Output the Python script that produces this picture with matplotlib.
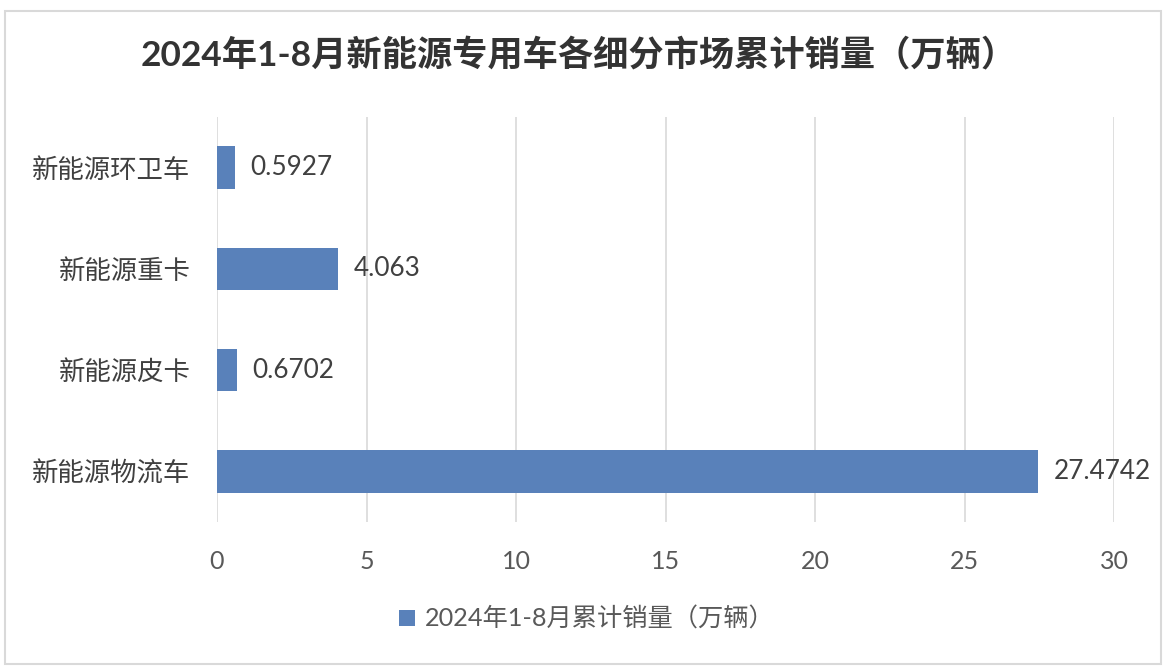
import matplotlib
matplotlib.use("Agg")
from matplotlib import pyplot as plt
from matplotlib.patches import Rectangle

plt.rcParams['font.family'] = ['Lato', 'Noto Sans CJK SC', 'DejaVu Sans']

categories = ['新能源物流车', '新能源皮卡', '新能源重卡', '新能源环卫车']
values = [27.4742, 0.6702, 4.063, 0.5927]
value_labels = ['27.4742', '0.6702', '4.063', '0.5927']
xticks = [0, 5, 10, 15, 20, 25, 30]
title = '2024年1-8月新能源专用车各细分市场累计销量（万辆）'
series_name = '2024年1-8月累计销量（万辆）'

bar_color = '#5981BA'

fig = plt.figure(figsize=(11.68, 6.72), dpi=100)
ax = fig.add_axes([217/1168, 1 - 522/672, (1114 - 217)/1168, (522 - 117)/672])

y = range(len(categories))
bars = ax.barh(y, values, height=0.42, color=bar_color, label=series_name, zorder=3)
for b, lab in zip(bars, value_labels):
    ax.annotate(lab, (b.get_width(), b.get_y() + b.get_height()/2),
                xytext=(11, 0), textcoords='offset points',
                va='center', ha='left', fontsize=18.8, color='#404040')

ax.set_xlim(0, 30)
ax.set_ylim(-0.5, 3.5)
ax.set_xticks(xticks)
ax.set_yticks(list(y))
ax.set_yticklabels(categories)
ax.tick_params(axis='x', labelsize=18, colors='#595959', length=0, pad=20)
ax.tick_params(axis='y', labelsize=19, colors='#404040', length=0, pad=19)
ax.grid(axis='x', color='#D9D9D9', linewidth=1.2, zorder=0)
for s in ax.spines.values():
    s.set_visible(False)

fig.text(0.5 - 5/1168, 1 - 54/672, title, ha='center', va='center',
         fontsize=25.4, fontweight='bold', color='#333333')

fig.legend(loc='center', bbox_to_anchor=(587/1168, 1 - 619/672),
           frameon=False, fontsize=18.2, handlelength=0.6, handleheight=0.6,
           handletextpad=0.4, labelcolor='#595959')

fig.patches.append(Rectangle((5/1168, 1 - 664/672), (1161 - 5)/1168, (664 - 11)/672,
                             transform=fig.transFigure, fill=False,
                             edgecolor='#D9D9D9', linewidth=1.5))

fig.savefig('out.png', dpi=100)
